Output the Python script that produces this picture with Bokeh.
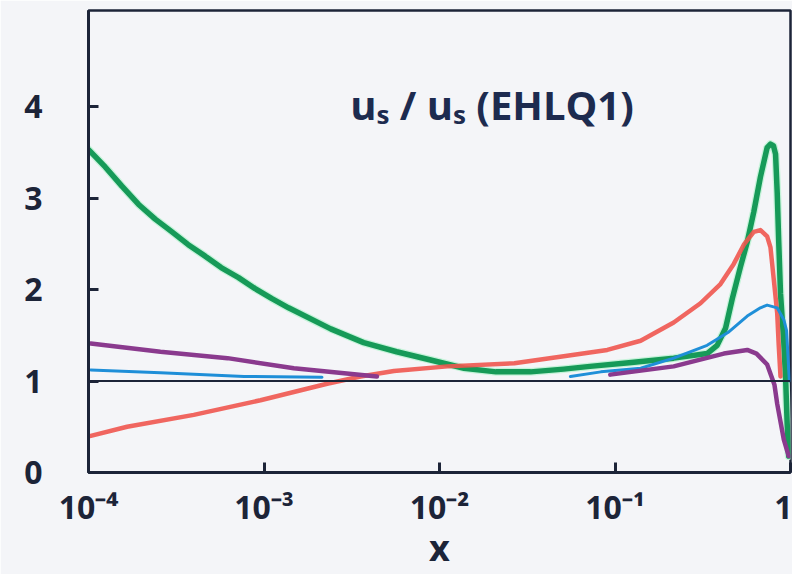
from bokeh.plotting import figure
from bokeh.models import FixedTicker, Span, Label
from bokeh.embed import file_html
from bokeh.resources import INLINE

# ratio u_s / u_s(EHLQ1) versus x, four parametrisations
green_x = [1.0e-4, 1.245e-4, 1.55e-4, 1.93e-4, 2.4e-4, 2.99e-4, 3.7e-4, 4.62e-4, 5.7e-4,
           7.16e-4, 8.9e-4, 1.11e-3, 1.38e-3, 2.4e-3, 3.7e-3, 5.7e-3, 8.9e-3, 1.38e-2,
           2.1e-2, 3.3e-2, 5.1e-2, 7.2e-2, 0.12, 0.216, 0.335, 0.382, 0.427, 0.466,
           0.519, 0.567, 0.618, 0.674, 0.736, 0.769, 0.80, 0.822, 0.84, 0.857, 0.877,
           0.916, 0.938, 0.957, 0.977]
green_y = [3.53, 3.34, 3.13, 2.93, 2.77, 2.63, 2.49, 2.365, 2.24,
           2.13, 2.01, 1.90, 1.80, 1.57, 1.42, 1.32, 1.23, 1.14,
           1.10, 1.10, 1.13, 1.16, 1.20, 1.25, 1.30, 1.39, 1.58, 1.90,
           2.25, 2.52, 2.85, 3.23, 3.55, 3.59, 3.57, 3.48, 3.06, 2.52, 1.96,
           1.42, 1.03, 0.54, 0.18]

red_x = [1.03e-4, 1.66e-4, 3.98e-4, 9.55e-4, 2.29e-3, 3.55e-3, 5.5e-3, 1.11e-2,
         2.67e-2, 5.1e-2, 0.0904, 0.14, 0.216, 0.307, 0.399, 0.475, 0.542, 0.618,
         0.674, 0.736, 0.769, 0.804, 0.84, 0.857, 0.877]
red_y = [0.40, 0.50, 0.63, 0.79, 0.97, 1.05, 1.11, 1.16,
         1.195, 1.27, 1.34, 1.44, 1.64, 1.85, 2.06, 2.28, 2.49, 2.63,
         2.65, 2.58, 2.46, 2.10, 1.74, 1.39, 1.05]

blue_low_x = [1.03e-4, 2.57e-4, 7.7e-4, 2.14e-3]
blue_low_y = [1.12, 1.09, 1.05, 1.04]
blue_high_x = [0.0557, 0.083, 0.14, 0.216, 0.335, 0.44, 0.567, 0.674, 0.736, 0.84,
               0.916, 0.95, 0.985]
blue_high_y = [1.05, 1.10, 1.14, 1.25, 1.39, 1.53, 1.71, 1.80, 1.83, 1.80,
               1.67, 1.55, 1.00]

purple_low_x = [1.03e-4, 2.57e-4, 6.2e-4, 1.48e-3, 4.4e-3]
purple_low_y = [1.41, 1.32, 1.25, 1.14, 1.05]
purple_high_x = [0.094, 0.216, 0.417, 0.567, 0.64, 0.736, 0.81, 0.84, 0.916, 0.977]
purple_high_y = [1.07, 1.16, 1.30, 1.34, 1.30, 1.18, 0.96, 0.75, 0.36, 0.18]

reference_level = 1.0

x_ticks = [1e-4, 1e-3, 1e-2, 1e-1, 1.0]
x_tick_labels = ["10⁻⁴", "10⁻³", "10⁻²", "10⁻¹", "1"]
y_ticks = [0, 1, 2, 3, 4]

ink = "#1c2438"
paper = "#f4f5f8"
font = "Open Sans"

p = figure(width=792, height=574, x_axis_type="log", x_range=(1e-4, 1.0),
           y_range=(0, 5.05), output_backend="svg", toolbar_location=None)
p.min_border_left = 88
p.min_border_right = 2
p.min_border_top = 10
p.min_border_bottom = 90
p.background_fill_color = paper
p.border_fill_color = paper
p.outline_line_color = ink
p.outline_line_width = 2.5
p.xgrid.visible = False
p.ygrid.visible = False

p.xaxis.ticker = FixedTicker(ticks=x_ticks, minor_ticks=[])
p.xaxis.major_label_overrides = {t: s for t, s in zip(x_ticks, x_tick_labels)}
p.yaxis.ticker = FixedTicker(ticks=y_ticks, minor_ticks=[])

for ax in (p.xaxis[0], p.yaxis[0]):
    ax.axis_line_color = ink
    ax.axis_line_width = 3
    ax.major_tick_line_color = ink
    ax.major_tick_line_width = 3
    ax.major_tick_in = 10
    ax.major_tick_out = 0
    ax.minor_tick_line_color = None
    ax.major_label_text_font = font
    ax.major_label_text_font_style = "bold"
    ax.major_label_text_color = ink
    ax.major_label_text_font_size = "32px"

p.yaxis.major_label_standoff = 46
p.xaxis.major_label_standoff = 12
p.xaxis.axis_label = "x"
p.xaxis.axis_label_text_font = font
p.xaxis.axis_label_text_font_style = "bold"
p.xaxis.axis_label_text_font_size = "36px"
p.xaxis.axis_label_text_color = ink
p.xaxis.axis_label_standoff = -8

# reference line at ratio one
p.add_layout(Span(location=reference_level, dimension="width",
                  line_color=ink, line_width=2))

# green curve with a pale marker halo
p.line(green_x, green_y, line_color="#c6f3da", line_width=8, line_join="round", line_cap="round")
p.line(green_x, green_y, line_color="#169a58", line_width=5.5, line_join="round", line_cap="round")

p.line(red_x, red_y, line_color="#f0574f", line_width=4.5, line_alpha=0.9,
       line_join="round", line_cap="round")

for xs, ys in ((blue_low_x, blue_low_y), (blue_high_x, blue_high_y)):
    p.line(xs, ys, line_color="#1f8fd8", line_width=3, line_join="round", line_cap="round")

for xs, ys in ((purple_low_x, purple_low_y), (purple_high_x, purple_high_y)):
    p.line(xs, ys, line_color="#8a3a8e", line_width=4.5, line_join="round", line_cap="round")

p.add_layout(Label(x=3.1e-3, y=4.02, text="uₛ / uₛ (EHLQ1)", text_font=font,
                   text_font_style="bold", text_font_size="40px", text_color="#1d2b4f",
                   text_baseline="middle"))

open("out.html", "w").write(file_html(p, INLINE))
